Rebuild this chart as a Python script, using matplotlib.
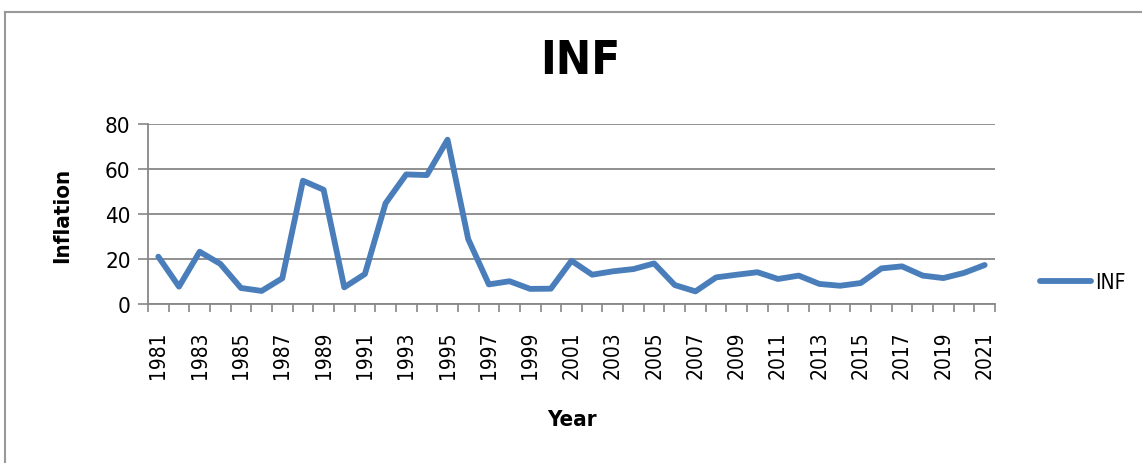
import matplotlib.pyplot as plt
import numpy as np

years = list(range(1981, 2022))
inflation = [21.0, 7.7, 23.2, 17.8, 7.1, 5.8, 11.4, 54.7, 50.7, 7.4,
             13.3, 44.7, 57.5, 57.2, 72.9, 28.8, 8.7, 10.1, 6.7, 6.8,
             19.2, 13.0, 14.5, 15.5, 18.0, 8.4, 5.6, 11.8, 13.0, 14.1,
             11.1, 12.6, 8.9, 8.1, 9.3, 15.8, 16.7, 12.6, 11.5, 13.8, 17.3]
year_labels = [str(y) if (y - 1981) % 2 == 0 else "" for y in years]

# DejaVu Sans Condensed is the closest thing to Arial Narrow here
plt.rcParams['font.family'] = ['DejaVu Sans']
plt.rcParams['font.stretch'] = 'condensed'

blue = '#4A7EBB'
grey = '#878787'

fig = plt.figure(figsize=(11.42, 4.64), dpi=100)
W, H = 1142, 464   # work in pixels, then convert
ax = fig.add_axes([148 / W, 1 - 305 / H, (995 - 148) / W, (305 - 124.7) / H])

x = np.arange(len(years))
ax.plot(x, inflation, color=blue, linewidth=4.2, solid_joinstyle='round',
        solid_capstyle='round', label='INF')

ax.set_xlim(-0.5, len(years) - 0.5)
ax.set_ylim(0, 80)
ax.set_yticks([0, 20, 40, 60, 80])
ax.yaxis.grid(True, color=grey, linewidth=1.3)
ax.set_axisbelow(True)

ax.set_xticks(x)
ax.set_xticklabels(year_labels, rotation=90, fontsize=15)
ax.tick_params(axis='x', length=0, pad=19)
# excel style ticks between categories
ax.set_xticks(np.arange(-0.5, len(years)), minor=True)
ax.tick_params(axis='x', which='minor', length=6, width=1.2, color=grey, direction='out')
ax.tick_params(axis='y', length=7.5, width=1.2, color=grey, labelsize=16, pad=5)

for s in ['top', 'right']:
    ax.spines[s].set_visible(False)
for s in ['left', 'bottom']:
    ax.spines[s].set_color(grey)
    ax.spines[s].set_linewidth(1.3)

fig.text(580 / W, 1 - 62 / H, 'INF', fontsize=34, fontweight='bold', ha='center', va='center')
fig.text(572 / W, 1 - 420 / H, 'Year', fontsize=16, fontweight='bold', ha='center', va='center')
fig.text(62 / W, 1 - 215 / H, 'Inflation', fontsize=16, fontweight='bold', ha='center', va='center', rotation=90)

leg = fig.legend(loc='center left', bbox_to_anchor=(1032 / W, 1 - 283 / H), frameon=False,
                 fontsize=15, handlelength=2.45, handletextpad=0.2, borderaxespad=0)

# outer chart border, only top and left show in the crop
fig.add_artist(plt.Line2D([5 / W, 5 / W], [0, 1 - 13 / H], transform=fig.transFigure, color='#999999', linewidth=1.5))
fig.add_artist(plt.Line2D([5 / W, 1], [1 - 13 / H, 1 - 13 / H], transform=fig.transFigure, color='#999999', linewidth=1.5))

fig.savefig('out.png', dpi=100)
